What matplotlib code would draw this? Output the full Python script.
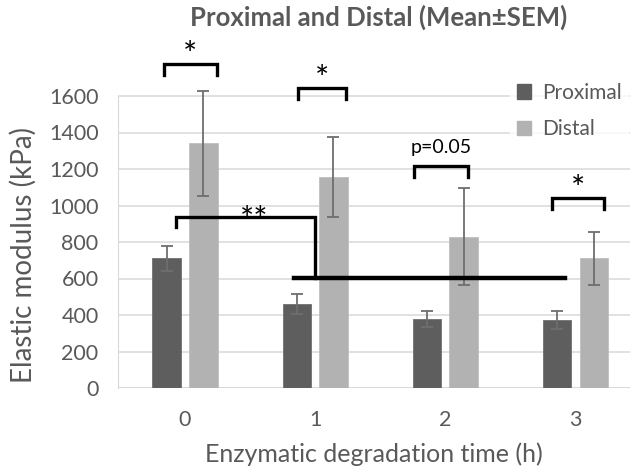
import numpy as np
import matplotlib
matplotlib.use('Agg')
import matplotlib.pyplot as plt
from matplotlib.patches import Patch

# Data
times = ['0', '1', '2', '3']
proximal = [710, 459, 377, 372]
proximal_sem = [68, 56, 44, 50]
distal = [1341, 1154, 830, 710]
distal_sem = [288, 219, 265, 145]

# Significance brackets over each pair (offsets relative to the time point)
sig_labels = ['*', '*', 'p=0.05', '*']
sig_left = [-0.162, -0.131, -0.238, -0.177]
sig_right = [0.246, 0.238, 0.177, 0.223]
sig_y = [1775, 1644, 1216, 1041]
sig_drop = 58

# Bracket comparing proximal at 0 h with the later proximal groups
long_x = [-0.069, -0.069, 1.0, 1.0]
long_y = [882, 937, 937, 603]
long_base_x = [0.838, 2.92]
long_base_y = 603

dark = '#5e5e5e'
light = '#b2b2b2'
text_col = '#595959'

plt.rcParams['font.family'] = ['Lato', 'DejaVu Sans']

fig = plt.figure(figsize=(6.3, 4.72), dpi=100)
ax = fig.add_axes([118 / 630, 84 / 472, 512 / 630, 346.75 / 472])

x = np.arange(len(times))
w = 0.218
off = 0.141
err_kw = dict(ecolor='#6e6e6e', elinewidth=1.3, capsize=4.5, capthick=1.3)
ax.bar(x - off, proximal, w, yerr=proximal_sem, color=dark, edgecolor='#707070',
       linewidth=0.6, error_kw=err_kw, zorder=2, label='Proximal')
ax.bar(x + off, distal, w, yerr=distal_sem, color=light, edgecolor='#c0c0c0',
       linewidth=0.6, error_kw=err_kw, zorder=2, label='Distal')

ax.set_xlim(-0.515, 3.42)
ax.set_ylim(0, 1900)
ax.set_yticks(range(0, 1601, 200))
ax.set_xticks(x)
ax.set_xticklabels(times)
ax.yaxis.grid(True, color='#d9d9d9', linewidth=1.1, zorder=0)
ax.set_axisbelow(True)
for s in ['top', 'right', 'bottom']:
    ax.spines[s].set_visible(False)
ax.spines['left'].set_color('#d9d9d9')
ax.spines['left'].set_bounds(0, 1600)
ax.axhline(0, color='#d9d9d9', linewidth=1.3, zorder=1)
ax.tick_params(length=0, labelsize=15.5, labelcolor=text_col)
ax.tick_params(axis='y', pad=14)
ax.tick_params(axis='x', pad=16)

ax.set_xlabel('Enzymatic degradation time (h)', fontsize=18, color=text_col, labelpad=9)
ax.set_ylabel('Elastic modulus (kPa)', fontsize=20, color=text_col)
ax.yaxis.set_label_coords(-0.158, 0.385)
fig.suptitle('Proximal and Distal (Mean\u00b1SEM)', x=379 / 630, y=0.99,
             fontsize=18.5, fontweight='bold', color=text_col)

# significance brackets
for i, lab in enumerate(sig_labels):
    l, r, y = i + sig_left[i], i + sig_right[i], sig_y[i]
    ax.plot([l, l, r, r], [y - sig_drop, y, y, y - sig_drop], color='black',
            linewidth=2.4, solid_joinstyle='miter', clip_on=False, zorder=4)
    if lab.startswith('p'):
        ax.text((l + r) / 2, y + 55, lab, ha='center', va='bottom', fontsize=14,
                color='black', clip_on=False, zorder=5)
    else:
        ax.text((l + r) / 2, y - 38, lab, ha='center', va='bottom', fontsize=24,
                color='black', clip_on=False, zorder=5)

ax.plot(long_x, long_y, color='black', linewidth=2.4, solid_joinstyle='miter', zorder=4)
ax.plot(long_base_x, [long_base_y, long_base_y], color='black', linewidth=3.2, zorder=4)
ax.text(0.53, 832, '**', ha='center', va='bottom', fontsize=24,
        color='black', zorder=5)

handles = [Patch(color=dark, label='Proximal'), Patch(color=light, label='Distal')]
leg = ax.legend(handles=handles, loc='upper left', bbox_to_anchor=(500 / 630, 406 / 472),
                bbox_transform=fig.transFigure, frameon=True, fontsize=15,
                handlelength=0.7, handleheight=0.7, handletextpad=0.5,
                labelspacing=0.8, borderpad=0.3, labelcolor=text_col)
leg.get_frame().set_facecolor('white')
leg.get_frame().set_edgecolor('white')

fig.savefig('out.png', dpi=100)
